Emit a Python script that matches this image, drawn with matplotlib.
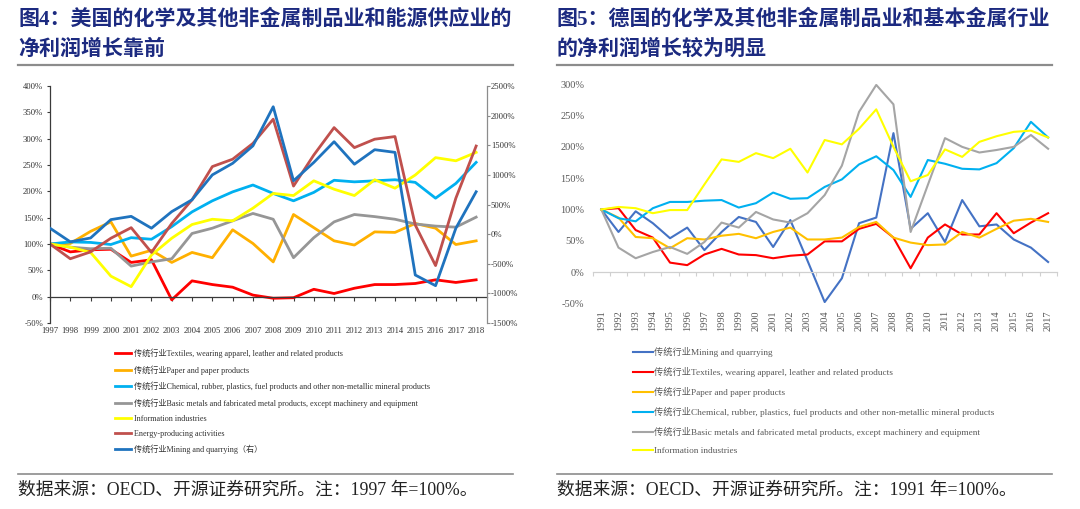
import matplotlib
matplotlib.use('Agg')
import matplotlib.pyplot as plt
from matplotlib.lines import Line2D
from matplotlib.font_manager import FontProperties
from matplotlib.ticker import FuncFormatter

# ---------------- data: left chart (US, 1997 = 100%) ----------------
years_us = list(range(1997, 2019))
us_textiles = [100, 85, 89, 90, 65, 70, -6, 30, 23, 18, 3, -3, -2, 14, 6, 16, 23, 23, 25, 32, 27, 32]
us_paper = [100, 101, 124, 142, 77, 88, 65, 84, 74, 127, 101, 66, 156, 131, 106, 98, 123, 122, 139, 130, 99, 106]
us_chemical = [100, 104, 103, 99, 112, 109, 133, 161, 182, 199, 212, 196, 182, 198, 221, 218, 220, 222, 217, 187, 215, 255]
us_basic = [100, 94, 91, 92, 58, 66, 72, 120, 130, 144, 158, 147, 74, 112, 142, 156, 152, 147, 138, 134, 132, 151]
us_info = [100, 94, 84, 39, 19, 79, 111, 137, 147, 144, 168, 196, 192, 220, 204, 192, 222, 206, 231, 264, 258, 274]
us_energy = [100, 72, 85, 111, 131, 84, 139, 184, 247, 261, 291, 337, 210, 269, 321, 283, 299, 304, 136, 59, 187, 286]
us_mining_right = [100, -130, -65, 245, 300, 100, 380, 580, 1000, 1195, 1490, 2150, 900, 1210, 1560, 1180, 1425, 1380, -690, -870, 100, 715]
us_left_ticks = [-50, 0, 50, 100, 150, 200, 250, 300, 350, 400]
us_right_ticks = [-1500, -1000, -500, 0, 500, 1000, 1500, 2000, 2500]

us_labels = [
    "传统行业Textiles, wearing apparel, leather and related products",
    "传统行业Paper and paper products",
    "传统行业Chemical, rubber, plastics, fuel products and other non-metallic mineral products",
    "传统行业Basic metals and fabricated metal products, except machinery and equipment",
    "Information industries",
    "Energy-producing activities",
    "传统行业Mining and quarrying（右）",
]

# ---------------- data: right chart (Germany, 1991 = 100%) ----------------
years_de = list(range(1991, 2018))
de_mining = [100, 64, 97, 78, 54, 71, 35, 64, 88, 80, 40, 83, 18, -48, -10, 78, 87, 222, 69, 94, 48, 115, 73, 76, 52, 39, 16]
de_textiles = [100, 102, 67, 55, 15, 11, 28, 37, 28, 27, 22, 26, 28, 49, 49, 69, 77, 55, 6, 55, 76, 60, 60, 94, 62, 79, 94]
de_paper = [100, 87, 56, 54, 38, 54, 52, 58, 61, 54, 64, 71, 52, 52, 55, 72, 80, 55, 47, 43, 44, 64, 55, 69, 82, 85, 80]
de_chemical = [100, 86, 81, 102, 112, 112, 114, 115, 103, 110, 127, 117, 118, 136, 148, 172, 185, 163, 120, 179, 173, 165, 164, 174, 198, 240, 215]
de_basic = [100, 39, 22, 32, 40, 29, 48, 79, 71, 96, 84, 79, 94, 123, 170, 256, 299, 268, 64, 139, 214, 200, 191, 195, 200, 219, 197]
de_info = [100, 104, 102, 94, 99, 99, 140, 180, 176, 190, 182, 197, 159, 211, 204, 229, 260, 200, 145, 155, 196, 184, 208, 217, 224, 226, 215]
de_ticks = [-50, 0, 50, 100, 150, 200, 250, 300]

de_labels = [
    "传统行业Mining and quarrying",
    "传统行业Textiles, wearing apparel, leather and related products",
    "传统行业Paper and paper products",
    "传统行业Chemical, rubber, plastics, fuel products and other non-metallic mineral products",
    "传统行业Basic metals and fabricated metal products, except machinery and equipment",
    "Information industries",
]

# ---------------- figure helpers ----------------
W, H = 1080, 509
fig = plt.figure(figsize=(W / 100, H / 100), dpi=100)
fig.patch.set_facecolor('white')


def fx(px):
    return px / W


def fy(py):
    return 1 - py / H


SERIF_CJK = ['Liberation Serif', 'Noto Sans CJK SC']
TITLE_FONT = ['Liberation Serif', 'Noto Sans CJK SC']
TITLE_COLOR = '#1c2a80'
pct = FuncFormatter(lambda v, p: f"{v:.0f}%")

# ---------------- titles, rules, footers ----------------
titles = [
    (18, "图4：美国的化学及其他非金属制品业和能源供应业的", "净利润增长靠前", 513, "数据来源：OECD、开源证券研究所。注：1997 年=100%。"),
    (557, "图5：德国的化学及其他非金属制品业和基本金属行业", "的净利润增长较为明显", 1052, "数据来源：OECD、开源证券研究所。注：1991 年=100%。"),
]
for x0, l1, l2, x1, foot in titles:
    fig.text(fx(x0), fy(20), l1, family=TITLE_FONT, fontsize=15.1, fontweight='bold',
             color=TITLE_COLOR, va='center', ha='left')
    fig.text(fx(x0), fy(50), l2, family=TITLE_FONT, fontsize=15.1, fontweight='bold',
             color=TITLE_COLOR, va='center', ha='left')
    fig.add_artist(Line2D([fx(x0), fx(x1)], [fy(65), fy(65)], color='#8c8c8c', lw=1.6))
    fig.add_artist(Line2D([fx(x0), fx(x1)], [fy(474), fy(474)], color='#8c8c8c', lw=1.2))
    fig.text(fx(x0), fy(490), foot, family=SERIF_CJK, fontsize=12.8, color='#222222',
             va='center', ha='left')

# ---------------- left chart ----------------
ax1 = fig.add_axes([fx(50), fy(323), fx(486.7) - fx(50), fy(86) - fy(323)])
ax1.set_xlim(1997, 2018.52)
ax1.set_ylim(-50, 400)
ax2 = ax1.twinx()
ax2.set_ylim(-1500, 2500)

lw_l = 2.0
us_series = [
    (us_textiles, '#ff0000'),
    (us_paper, '#ffb000'),
    (us_chemical, '#00b0f0'),
    (us_basic, '#969696'),
    (us_info, '#ffff00'),
    (us_energy, '#c0504d'),
]
handles_l = []
for (vals, col), lab in zip(us_series, us_labels[:6]):
    h, = ax1.plot(years_us, vals, color=col, lw=lw_l, label=lab)
    handles_l.append(h)
h, = ax2.plot(years_us, us_mining_right, color='#1f73be', lw=lw_l, label=us_labels[6])
handles_l.append(h)

for sp in ['top', 'right']:
    ax1.spines[sp].set_visible(False)
ax1.spines['bottom'].set_position(('data', 0))
ax1.spines['bottom'].set_color('#3a3a3a')
ax1.spines['left'].set_color('#3a3a3a')
ax1.spines['bottom'].set_linewidth(0.9)
ax1.spines['left'].set_linewidth(0.9)
for sp in ['top', 'left', 'bottom']:
    ax2.spines[sp].set_visible(False)
ax2.spines['right'].set_color('#8c8c8c')
ax2.spines['right'].set_linewidth(0.9)

ax1.set_yticks(us_left_ticks)
ax1.yaxis.set_major_formatter(pct)
ax1.set_xticks(years_us)
ax1.tick_params(axis='x', direction='out', length=3, width=0.8, color='#3a3a3a', labelbottom=False)
ax1.tick_params(axis='y', direction='out', length=2, width=0.8, color='#3a3a3a', pad=3,
                labelsize=6.2, labelcolor='#333333')
ax2.set_yticks(us_right_ticks)
ax2.yaxis.set_major_formatter(pct)
ax2.tick_params(axis='y', direction='out', length=2, width=0.8, color='#8c8c8c', pad=1,
                labelsize=6.2, labelcolor='#333333')
for lbl in ax1.get_yticklabels() + ax2.get_yticklabels():
    lbl.set_family('Liberation Serif')

sec1 = ax1.secondary_xaxis('bottom')
sec1.set_xticks(years_us)
sec1.set_xticklabels([str(y) for y in years_us])
sec1.tick_params(length=0, pad=3, labelsize=6.2, labelcolor='#333333')
sec1.spines['bottom'].set_visible(False)
for lbl in sec1.get_xticklabels():
    lbl.set_family('Liberation Serif')

leg1 = fig.legend(handles=handles_l, labels=us_labels, loc='upper left',
                  bbox_to_anchor=(fx(115), fy(348.5)), bbox_transform=fig.transFigure,
                  frameon=False, prop=FontProperties(family=SERIF_CJK, size=5.9),
                  handlelength=2.0, handletextpad=0.3, labelspacing=0.86,
                  borderpad=0, borderaxespad=0)
for t in leg1.get_texts():
    t.set_color('#333333')

# ---------------- right chart ----------------
ax3 = fig.add_axes([fx(592.7), fy(303.3), fx(1056.7) - fx(592.7), fy(84.3) - fy(303.3)])
ax3.set_xlim(1990.5, 2017.5)
ax3.set_ylim(-50, 300)
de_series = [
    (de_mining, '#4472c4'),
    (de_textiles, '#ff0000'),
    (de_paper, '#ffc000'),
    (de_chemical, '#00b0f0'),
    (de_basic, '#a5a5a5'),
    (de_info, '#ffff00'),
]
handles_r = []
for (vals, col), lab in zip(de_series, de_labels):
    h, = ax3.plot(years_de, vals, color=col, lw=1.5, label=lab)
    handles_r.append(h)

for sp in ['top', 'right', 'left']:
    ax3.spines[sp].set_visible(False)
ax3.spines['bottom'].set_position(('data', 0))
ax3.spines['bottom'].set_color('#d0d0d0')
ax3.spines['bottom'].set_linewidth(0.9)
ax3.set_xticks([y - 0.5 for y in years_de] + [years_de[-1] + 0.5])
ax3.tick_params(axis='x', direction='out', length=3, width=0.8, color='#d0d0d0', labelbottom=False)
ax3.set_yticks(de_ticks)
ax3.yaxis.set_major_formatter(pct)
ax3.tick_params(axis='y', length=0, pad=6, labelsize=7.5, labelcolor='#595959')
for lbl in ax3.get_yticklabels():
    lbl.set_family('Liberation Serif')

sec3 = ax3.secondary_xaxis('bottom')
sec3.set_xticks(years_de)
sec3.set_xticklabels([str(y) for y in years_de], rotation=90)
sec3.tick_params(length=0, pad=5, labelsize=7.5, labelcolor='#595959')
sec3.spines['bottom'].set_visible(False)
for lbl in sec3.get_xticklabels():
    lbl.set_family('Liberation Serif')

leg3 = fig.legend(handles=handles_r, labels=de_labels, loc='upper left',
                  bbox_to_anchor=(fx(632.7), fy(347)), bbox_transform=fig.transFigure,
                  frameon=False, prop=FontProperties(family=SERIF_CJK, size=6.65),
                  handlelength=2.2, handletextpad=0.12, labelspacing=1.07,
                  borderpad=0, borderaxespad=0)
for t in leg3.get_texts():
    t.set_color('#595959')

fig.savefig('out.png', dpi=100, facecolor='white')
